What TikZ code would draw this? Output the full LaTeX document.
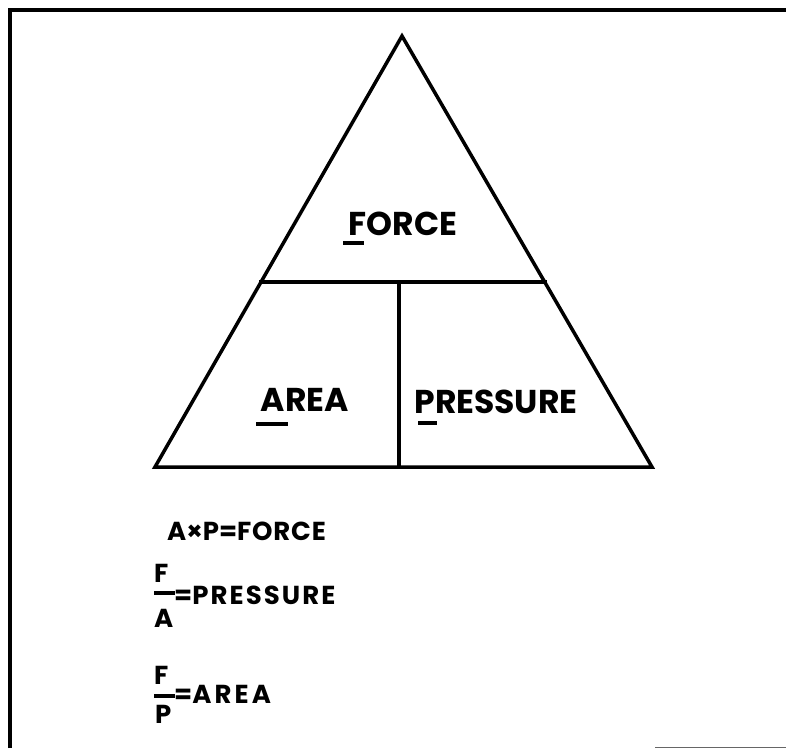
\documentclass[tikz,border=0pt]{standalone}
\usepackage{fontspec}
\setmainfont{Poppins}
\begin{document}
\begin{tikzpicture}[x=1pt,y=-1pt,
  frame/.style={line width=4pt},
  tri/.style={line width=3.5pt, line join=miter, line cap=rect},
  big/.style={font=\fontsize{33}{33}\selectfont\bfseries, inner sep=0pt, anchor=base},
  small/.style={font=\fontsize{26}{26}\selectfont\bfseries, inner sep=0pt, anchor=base west},
  ul/.style={line width=4pt},
  fbar/.style={line width=4pt}]
\useasboundingbox (0,0) rectangle (786,748);
% frame
\draw[frame] (10,748) -- (10,10) -- (786,10);
\draw[line width=1pt, black!60] (655,747) -- (786,747);
% triangle
\coordinate (apex) at (402,36);
\coordinate (bl) at (155,467);
\coordinate (br) at (652,467);
\coordinate (ml) at (261,282);
\coordinate (mr) at (545,282);
\coordinate (vt) at (399,282);
\coordinate (vb) at (399,467);
\draw[tri] (apex) -- (br) -- (bl) -- cycle;
\draw[tri] (ml) -- (mr);
\draw[tri] (vt) -- (vb);
% labels
\node[big] (force) at (403,235) {FORCE};
\node[big] (area) at (305,411) {AREA};
\node[big] (press) at (496,413) {PRESSURE};
\draw[ul] (343,243) -- (364,243);
\draw[ul] (256,424) -- (288,424);
\draw[ul] (418,423) -- (437,423);
% formulas
\node[small] (f1) at (167,540) {A×P=\addfontfeatures{LetterSpace=3}FORCE};
\node[small] (n1) at (154,582) {F};
\draw[fbar] (154,593) -- (175,593);
\node[small] (d1) at (154,627) {A};
\node[small] (f2) at (174,604) {=\addfontfeatures{LetterSpace=8}PRESSURE};
\node[small] (n2) at (154,684) {F};
\draw[fbar] (154,696) -- (175,696);
\node[small] (d2) at (155,723) {P};
\node[small] (f3) at (174,703) {=\addfontfeatures{LetterSpace=12}AREA};
\end{tikzpicture}
\end{document}
